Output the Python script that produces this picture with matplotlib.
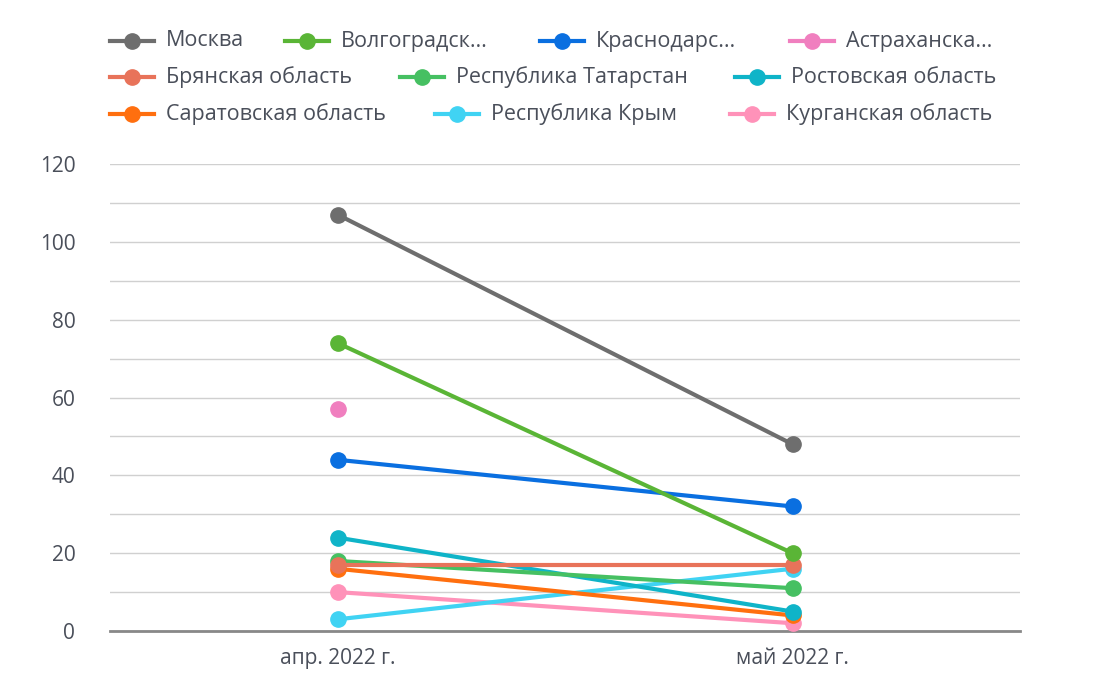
import matplotlib
matplotlib.use("Agg")
import matplotlib.pyplot as plt
from matplotlib.lines import Line2D

categories = ["апр. 2022 г.", "май 2022 г."]
series_names = ["Москва", "Волгоградская область", "Краснодарский край", "Астраханская область",
                "Брянская область", "Республика Татарстан", "Ростовская область",
                "Саратовская область", "Республика Крым", "Курганская область"]
legend_labels = ["Москва", "Волгоградск…", "Краснодарс…", "Астраханска…",
                 "Брянская область", "Республика Татарстан", "Ростовская область",
                 "Саратовская область", "Республика Крым", "Курганская область"]
apr_values = [107, 74, 44, 57, 17, 18, 24, 16, 3, 10]
may_values = [48, 20, 32, None, 17, 11, 5, 4, 16, 2]
colors = ["#6e6e6e", "#5ab536", "#0a6fe0", "#f07fbf", "#e8735a", "#46c062",
          "#0fb4c8", "#ff6f0f", "#40d3f3", "#ff92b9"]
y_ticks = [0, 20, 40, 60, 80, 100, 120]

W, H = 1110, 686
fig = plt.figure(figsize=(W/100, H/100), dpi=100)
ax = fig.add_axes([110/W, 1-631/H, 910/W, (631-164)/H])
tc = "#4a4f5a"

for i in list(range(len(series_names)))[::-1]:
    xs, ys = [], []
    for j, v in enumerate([apr_values[i], may_values[i]]):
        if v is not None:
            xs.append(j); ys.append(v)
    ax.plot(xs, ys, color=colors[i], lw=3, marker="o", ms=11, zorder=3, clip_on=False)

ax.set_xlim(-0.5, 1.5)
ax.set_ylim(0, 120)
ax.set_xticks([0, 1])
ax.set_xticklabels(categories, fontsize=15, color=tc, family="Open Sans")
ax.set_yticks(y_ticks)
ax.set_yticklabels([str(t) for t in y_ticks], fontsize=15, color=tc, family="Open Sans")
ax.set_yticks(range(0, 121, 10), minor=True)
ax.grid(axis="y", which="both", color="#d0d0d0", lw=1)
ax.set_axisbelow(True)
for s in ["top", "right", "left"]:
    ax.spines[s].set_visible(False)
ax.spines["bottom"].set_color("#888888")
ax.spines["bottom"].set_linewidth(2)
ax.tick_params(axis="x", length=0, pad=12)
ax.tick_params(axis="y", which="both", length=0, pad=25)

rows = [(41, [(110, 0), (285, 1), (540, 2), (790, 3)]),
        (77, [(110, 4), (400, 5), (735, 6)]),
        (114, [(110, 7), (435, 8), (730, 9)])]
for y, items in rows:
    for x, i in items:
        fy = 1 - y/H
        fig.add_artist(Line2D([x/W, (x+44)/W], [fy, fy], color=colors[i], lw=3))
        fig.add_artist(Line2D([(x+22)/W], [fy], color=colors[i], marker="o", ms=11, lw=0))
        fig.text((x+56)/W, fy, legend_labels[i], fontsize=15.5, color=tc, va="center", family="Open Sans")

fig.savefig("out.png", dpi=100)
